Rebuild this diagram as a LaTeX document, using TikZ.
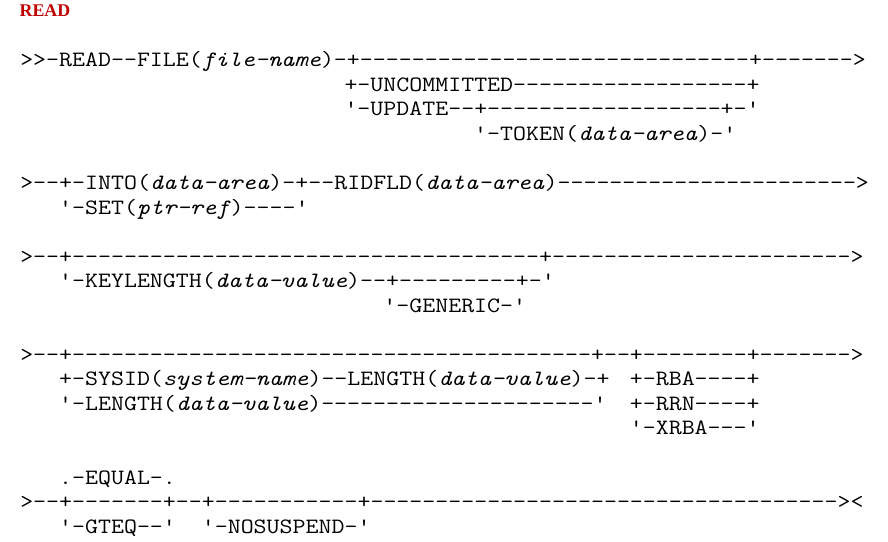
\documentclass[tikz,border=0pt]{standalone}
\usepackage{fontspec}
\setmonofont{Latin Modern Mono}[FakeStretch=1.152]
\newfontfamily\titlefont{Liberation Serif}
\usepackage{tikz}
\definecolor{readred}{RGB}{192,0,0}
\ExplSyntaxOn
\NewDocumentCommand\ds{m}{\prg_replicate:nn{#1}{-}}
\ExplSyntaxOff
\newcommand{\vname}[1]{\textit{#1}}
\tikzset{
  syn/.style={anchor=base west, inner sep=0pt,
              font=\ttfamily\fontsize{16.4}{18}\selectfont},
  hdr/.style={anchor=base west, inner sep=0pt, text=readred,
              font=\titlefont\bfseries\fontsize{13.4}{15}\selectfont}
}

\begin{document}
\begin{tikzpicture}[x=9.7275pt, y=-18.4125pt]
  \useasboundingbox (-1.542,-2.717) rectangle (66.924,19.32);
  \node[hdr] (title) at (-0.05,-2.04) {READ};
  % file and update options
  \node[syn] (file) at (0,0) {>>-READ--FILE(\vname{file-name})-+\ds{30}+\ds{7}>};
  \node[syn] (uncommitted) at (25,1) {+-UNCOMMITTED\ds{18}+};
  \node[syn] (update) at (25,2) {'-UPDATE--+\ds{18}+-'};
  \node[syn] (token) at (35,3) {'-TOKEN(\vname{data-area})-'};
  % into / set
  \node[syn] (into) at (0,5) {>--+-INTO(\vname{data-area})-+--RIDFLD(\vname{data-area})\ds{23}>};
  \node[syn] (set) at (3,6) {'-SET(\vname{ptr-ref})----'};
  % keylength
  \node[syn] (keymain) at (0,8) {>--+\ds{36}+\ds{23}>};
  \node[syn] (keylength) at (3,9) {'-KEYLENGTH(\vname{data-value})--+\ds{9}+-'};
  \node[syn] (generic) at (28,10) {'-GENERIC-'};
  % sysid, length and rba/rrn/xrba
  \node[syn] (sysmain) at (0,12) {>--+\ds{40}+--+\ds{8}+\ds{7}>};
  \node[syn] (sysid) at (3,13) {+-SYSID(\vname{system-name})--LENGTH(\vname{data-value})-+};
  \node[syn] (rba) at (47,13) {+-RBA----+};
  \node[syn] (length) at (3,14) {'-LENGTH(\vname{data-value})\ds{21}'};
  \node[syn] (rrn) at (47,14) {+-RRN----+};
  \node[syn] (xrba) at (47,15) {'-XRBA---'};
  % equal / gteq and nosuspend
  \node[syn] (equal) at (3,17) {.-EQUAL-.};
  \node[syn] (endmain) at (0,18) {>--+\ds{7}+--+\ds{11}+\ds{36}><};
  \node[syn] (gteq) at (3,19) {'-GTEQ--'};
  \node[syn] (nosuspend) at (14,19) {'-NOSUSPEND-'};
\end{tikzpicture}
\end{document}
